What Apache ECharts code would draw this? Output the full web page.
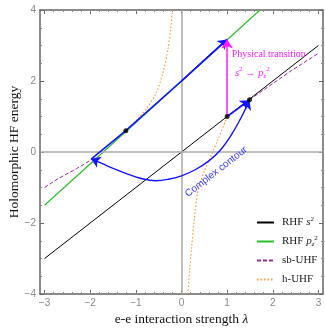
<!DOCTYPE html>
<html>
<head>
<meta charset="utf-8">
<script src="https://cdn.jsdelivr.net/npm/echarts@6/dist/echarts.min.js"></script>
<style>html,body{margin:0;padding:0;background:#fff}#c{width:325px;height:328px}</style>
</head>
<body>
<div id="c"></div>
<script>
// ---- data ----
const xTicks = [-3, -2, -1, 0, 1, 2, 3];
const yTicks = [-4, -2, 0, 2, 4];
const xMinorTicks = [];
for (let i = -15; i <= 15; i++) xMinorTicks.push(+(i * 0.2).toFixed(1));

// RHF s^2
const sLambda = [-3, 3];
const sEnergy = [-3, 3];
// RHF p_z^2
const pLambda = [-3, 1.72];
const pEnergy = [-1.5, 4];
// sb-UHF (two branches)
const sbLeftLambda = [-3, -2.69, -2.3, -1.98];
const sbLeftEnergy = [-1.0, -0.74, -0.47, -0.22];
const sbRightLambda = [1.49, 2.37, 3];
const sbRightEnergy = [1.47, 2.26, 2.78];
// h-UHF (two branches)
const hLeftLambda = [-1.22, -0.96, -0.78, -0.56, -0.41, -0.3, -0.24, -0.2];
const hLeftEnergy = [0.6, 0.93, 1.2, 1.65, 2.22, 2.87, 3.44, 4.0];
const hRightLambda = [0.14, 0.18, 0.22, 0.28, 0.36, 0.5, 0.65, 0.8, 1.0];
const hRightEnergy = [-4, -3.3, -2.7, -1.9, -1.1, -0.55, -0.1, 0.35, 1.0];
// complex contour (projection on real axis)
const loopLambda = [1.49, 1.31, 1.1, 0.85, 0.6, 0.3, 0, -0.26, -0.56, -0.9, -1.22, -1.5, -1.73, -1.98];
const loopEnergy = [1.46, 0.98, 0.5, 0.05, -0.25, -0.5, -0.67, -0.76, -0.81, -0.74, -0.6, -0.46, -0.33, -0.19];
const upLambda = [-1.98, -1.22, 0, 1];
const upEnergy = [-0.2, 0.6, 2.0, 3.17];
const stepLambda = [1, 1.49];
const stepEnergy = [1, 1.46];
// special points
const dotLambda = [-1.22, 1, 1.49];
const dotEnergy = [0.6, 1, 1.47];
// physical transition
const transLambda = [1, 1];
const transEnergy = [1, 3.17];

const zip = (a, b) => a.map((v, i) => [v, b[i]]);

const BLUE = '#1414ff';
const serif = 'Liberation Serif';

const chart = echarts.init(document.getElementById('c'), null, {renderer: 'canvas'});

const minus = v => String(v).replace('-', '\u2212');
const frameLine = {show: true, onZero: false, lineStyle: {color: '#666', width: 1.5}};
const noLine = {show: false, onZero: false};

function arrowSeg(lam, en, color, width) {
  return {
    type: 'lines', coordinateSystem: 'cartesian2d', xAxisIndex: 0, yAxisIndex: 0,
    symbol: ['none', 'arrow'], symbolSize: 9, silent: true, z: 6,
    lineStyle: {color: color, width: width, opacity: 1},
    data: [{coords: zip(lam, en)}]
  };
}
const n = loopLambda.length;

const option = {
  animation: false,
  grid: {left: 40, right: 2, top: 10, bottom: 34, containLabel: false, outerBoundsMode: 'none'},
  xAxis: [
    {type: 'value', position: 'bottom', min: -3.1, max: 3.1,
     axisLine: frameLine, splitLine: {show: false},
     axisTick: {inside: true, length: 4, customValues: xTicks, lineStyle: {color: '#666'}},
     axisLabel: {customValues: xTicks, color: '#888', fontSize: 10, margin: 4, fontFamily: 'Liberation Sans', formatter: minus},
     name: 'e-e interaction strength {i|λ}', nameLocation: 'middle', nameGap: 18,
     nameTextStyle: {fontFamily: serif, fontSize: 13.5, color: '#111', rich: {i: {fontFamily: serif, fontStyle: 'italic', fontSize: 13.5, color: '#111'}}}},
    {type: 'value', position: 'bottom', min: -3.1, max: 3.1,
     axisLine: noLine, splitLine: {show: false}, axisLabel: {show: false},
     axisTick: {inside: true, length: 2, customValues: xMinorTicks, lineStyle: {color: '#888'}}},
    {type: 'value', position: 'top', min: -3.1, max: 3.1,
     axisLine: frameLine, splitLine: {show: false}, axisLabel: {show: false},
     axisTick: {inside: true, length: 4, customValues: xTicks, lineStyle: {color: '#666'}}},
    {type: 'value', position: 'top', min: -3.1, max: 3.1,
     axisLine: noLine, splitLine: {show: false}, axisLabel: {show: false},
     axisTick: {inside: true, length: 2, customValues: xMinorTicks, lineStyle: {color: '#888'}}}
  ],
  yAxis: [
    {type: 'value', position: 'left', min: -4, max: 4, interval: 2,
     axisLine: frameLine, splitLine: {show: false},
     axisTick: {inside: true, length: 4, lineStyle: {color: '#666'}},
     minorTick: {show: true, splitNumber: 4, length: 2, lineStyle: {color: '#888'}},
     axisLabel: {color: '#888', fontSize: 10, margin: 4, fontFamily: 'Liberation Sans', formatter: minus},
     name: 'Holomorphic HF energy', nameLocation: 'middle', nameGap: 19, nameMoveOverlap: false,
     nameTextStyle: {fontFamily: serif, fontSize: 13.5, color: '#111'}},
    {type: 'value', position: 'right', min: -4, max: 4, interval: 2,
     axisLine: frameLine, splitLine: {show: false}, axisLabel: {show: false},
     axisTick: {inside: true, length: 4, lineStyle: {color: '#666'}},
     minorTick: {show: true, splitNumber: 4, length: 2, lineStyle: {color: '#888'}}}
  ],
  legend: {
    orient: 'vertical', left: 251, top: 211, itemWidth: 17, itemHeight: 10, itemGap: 6,
    itemStyle: {opacity: 0},
    data: ['RHF s2', 'RHF pz2', 'sb-UHF', 'h-UHF'],
    formatter: function (name) {
      if (name === 'RHF s2') return 'RHF {i|s}{sup|2}';
      if (name === 'RHF pz2') return 'RHF {i|p}{sub|z}{sup|2}';
      return name;
    },
    textStyle: {fontFamily: serif, fontSize: 11, color: '#222', padding: [0, 0, 0, 3], lineHeight: 13,
      rich: {
        i: {fontFamily: serif, fontStyle: 'italic', fontSize: 11, color: '#222', lineHeight: 13},
        sup: {fontFamily: serif, fontSize: 7, color: '#222', verticalAlign: 'top', lineHeight: 13},
        sub: {fontFamily: serif, fontStyle: 'italic', fontSize: 7, color: '#222', verticalAlign: 'bottom', lineHeight: 13}
      }}
  },
  series: [
    {name: 'RHF s2', type: 'line', symbol: 'none', data: zip(sLambda, sEnergy),
     lineStyle: {color: '#000', width: 1}, itemStyle: {color: '#000'}, z: 3,
     markLine: {silent: true, symbol: 'none', label: {show: false}, animation: false,
       lineStyle: {color: '#aaa', width: 1.5, type: 'solid'},
       data: [{xAxis: 0}, {yAxis: 0}]}},
    {name: 'RHF pz2', type: 'line', symbol: 'none', data: zip(pLambda, pEnergy),
     lineStyle: {color: '#2ebd2e', width: 1.2}, itemStyle: {color: '#2ebd2e'}, z: 3},
    {name: 'sb-UHF', type: 'line', symbol: 'none', data: zip(sbLeftLambda, sbLeftEnergy),
     lineStyle: {color: '#992a99', width: 1, type: [4, 2]}, itemStyle: {color: '#992a99'}, z: 3},
    {name: 'sb-UHF', type: 'line', symbol: 'none', data: zip(sbRightLambda, sbRightEnergy),
     lineStyle: {color: '#992a99', width: 1, type: [4, 2]}, itemStyle: {color: '#992a99'}, z: 3},
    {name: 'h-UHF', type: 'line', symbol: 'none', smooth: 0.3, data: zip(hLeftLambda, hLeftEnergy),
     lineStyle: {color: '#ff9a33', width: 1.2, type: [1.5, 2]}, itemStyle: {color: '#ff9a33'}, z: 3},
    {name: 'h-UHF', type: 'line', symbol: 'none', smooth: 0.3, data: zip(hRightLambda, hRightEnergy),
     lineStyle: {color: '#ff9a33', width: 1.2, type: [1.5, 2]}, itemStyle: {color: '#ff9a33'}, z: 3},
    // complex contour
    {name: 'contour', type: 'line', symbol: 'none', smooth: 0.4, data: zip(loopLambda, loopEnergy),
     lineStyle: {color: BLUE, width: 1.4}, z: 5, silent: true},
    {name: 'contourUp', type: 'line', symbol: 'none', data: zip(upLambda, upEnergy),
     lineStyle: {color: BLUE, width: 1.6}, z: 5, silent: true},
    arrowSeg(upLambda.slice(2), upEnergy.slice(2), BLUE, 1.6),
    arrowSeg(stepLambda, stepEnergy, BLUE, 1.6),
    arrowSeg([loopLambda[1], loopLambda[0]], [loopEnergy[1], loopEnergy[0]], BLUE, 0.01),
    arrowSeg([loopLambda[n - 2], loopLambda[n - 1]], [loopEnergy[n - 2], loopEnergy[n - 1]], BLUE, 0.01),
    arrowSeg(transLambda, transEnergy, '#ff1aff', 1.5),
    {name: 'points', type: 'scatter', symbol: 'circle', symbolSize: 5, data: zip(dotLambda, dotEnergy),
     itemStyle: {color: '#000'}, z: 7, silent: true}
  ]
};
chart.setOption(option);

// annotations anchored to data coordinates
const p1 = chart.convertToPixel({xAxisIndex: 0, yAxisIndex: 0}, [1.1, 2.76]);
const p2 = chart.convertToPixel({xAxisIndex: 0, yAxisIndex: 0}, [1.17, 2.23]);
const p3 = chart.convertToPixel({xAxisIndex: 0, yAxisIndex: 0}, [0.76, -0.56]);
chart.setOption({
  graphic: [
    {type: 'text', x: p1[0], y: p1[1], z: 10,
     style: {text: 'Physical transition', fontFamily: serif, fontSize: 10, fill: '#ff1aff', verticalAlign: 'middle'}},
    {type: 'text', x: p2[0], y: p2[1], z: 10,
     style: {text: '{i|s}{sup|2} \u2192 {i|p}{sub|z}{sup|2}', fontFamily: serif, fontSize: 10.5, fill: '#ff1aff', verticalAlign: 'middle',
       rich: {
         i: {fontFamily: serif, fontStyle: 'italic', fontSize: 10.5, fill: '#ff1aff', lineHeight: 14},
         sup: {fontFamily: serif, fontSize: 7, fill: '#ff1aff', verticalAlign: 'top', lineHeight: 14},
         sub: {fontFamily: serif, fontStyle: 'italic', fontSize: 7, fill: '#ff1aff', verticalAlign: 'bottom', lineHeight: 14}
       }}},
    {type: 'text', x: p3[0], y: p3[1], rotation: 38 * Math.PI / 180, z: 10,
     style: {text: 'Complex contour', fontFamily: 'Liberation Sans', fontSize: 10, fill: '#3a3aff', align: 'center', verticalAlign: 'middle'}}
  ]
});
</script>
</body>
</html>
